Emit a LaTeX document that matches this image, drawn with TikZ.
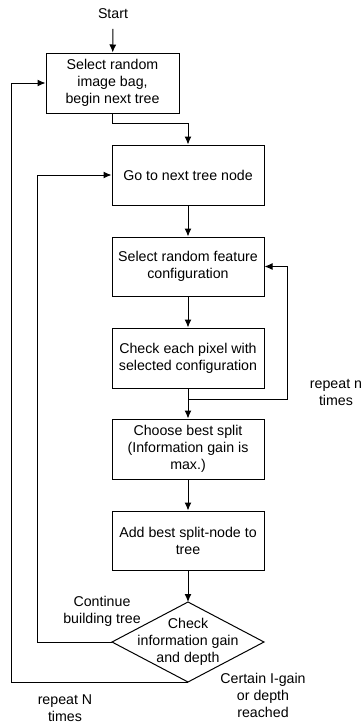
\documentclass[tikz,border=0pt]{standalone}
\usepackage{fontspec}
\setmainfont{Liberation Sans}
\usetikzlibrary{arrows.meta,shapes.geometric}

\begin{document}
\begin{tikzpicture}[>={Latex[length=8pt,width=7pt]}, x=1pt, y=-1pt, line width=1pt,
    blk/.style={draw, minimum width=152pt, minimum height=60pt, inner sep=0pt, align=center},
    every node/.append style={font=\fontsize{14.2}{17}\selectfont}]

    \useasboundingbox (0,0) rectangle (360,726);

    \node (start) at (113,14) {Start};
    \node[blk, minimum width=133pt] (bag) at (112.5,83) {Select random\\image bag,\\begin next tree};
    \node[blk] (next) at (188,175) {Go to next tree node};
    \node[blk, minimum height=59pt] (feat) at (188,266.5) {Select random feature\\configuration};
    \node[blk] (check) at (188,358) {Check each pixel with\\selected configuration};
    \node[blk] (split) at (188,449) {Choose best split\\(Information gain is\\max.)};
    \node[blk, minimum height=59pt] (add) at (188,540.5) {Add best split-node to\\tree};

    \node[diamond, draw, minimum width=152pt, minimum height=80pt, inner sep=0pt, outer sep=0pt] (gain) at (188,642) {};
    \node[align=center] (gaintxt) at (gain) {Check\\information gain\\and depth};

    \draw[->, shorten <=6pt] (start) -- (bag);
    \draw[->] (bag.south) -- ++(0,10) -| (next.north);

    \foreach \a/\b in {next/feat, feat/check, check/split, split/add, add/gain}
    {
        \draw[->] (\a) -- (\b);
    }

\coordinate (rep) at (287,399);
\draw[->] (check.south |- rep) -- (rep) |- (feat.east);
 \node[align=center] (repn) at (336,392) {repeat n\\times};

    \coordinate (inner) at (37,642);
    \draw[->] (gain.west) -- (inner) |- (next.west);
    \node[align=center] (cont) at (102,611.5) {Continue\\building tree};

    \coordinate (outer) at (11,682);
    \draw[->] (gain.south) -- (outer) |- (bag.west);
    \node[align=center] (repN) at (65,708) {repeat N\\times};

\node[align=center] (reached) at (263,695) {Certain I-gain\\or depth\\reached};

    \end{tikzpicture}
\end{document}
